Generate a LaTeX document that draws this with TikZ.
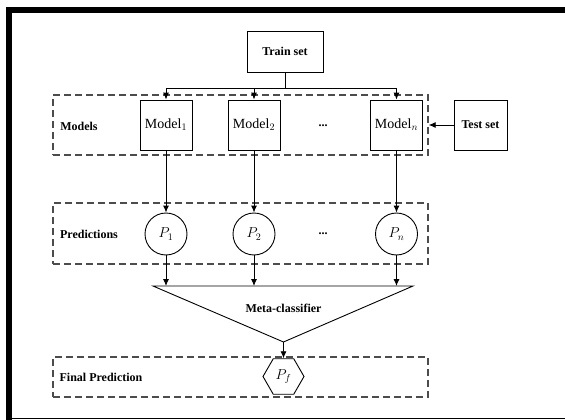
\documentclass[tikz,border=0pt]{standalone}
\usepackage{fontspec}
\setmainfont{Liberation Serif}
\usepackage{tikz}
\usetikzlibrary{shapes.geometric,arrows.meta}

\begin{document}
\begin{tikzpicture}[x=1pt,y=-1pt,
    every node/.style={font=\fontsize{12}{14}\selectfont\bfseries},
    stagebox/.style={draw=black!70,line width=1.4pt,dash pattern=on 7pt off 4pt,
      minimum width=375pt,inner sep=0pt},
    modelbox/.style={draw,line width=0.9pt,minimum width=52pt,minimum height=50pt,
      inner sep=0pt,font=\fontsize{14}{16}\selectfont},
    predcircle/.style={draw,circle,line width=0.9pt,minimum size=42pt,inner sep=0pt,
      font=\fontsize{14}{16}\selectfont},
    flow/.style={-{Latex[length=7pt,width=6pt]},line width=0.9pt}]
  \useasboundingbox (0,0) rectangle (565,420);
  % frame
  \fill (6,7) rectangle (565,13);
  \fill (6,7) rectangle (12,420);
  \draw[line width=1.5pt] (6,418.5) -- (565,418.5);

  % stages
  \node[stagebox,minimum height=60pt] (modelsbox) at (240.5,125) {};
  \node[stagebox,minimum height=61pt] (predbox) at (240.5,233.5) {};
  \node[stagebox,minimum height=40pt] (finalbox) at (240.5,377) {};
  \node (modelslabel) at (79,126) {Models};
  \node (predlabel) at (89,234) {Predictions};
  \node (finallabel) at (101,377) {Final Prediction};

  % inputs
  \node[draw,line width=0.9pt,minimum width=76pt,minimum height=41pt] (train) at (285,51.5) {Train set};
  \node[draw,line width=0.9pt,minimum width=53pt,minimum height=50pt,inner sep=0pt] (test) at (480.5,125) {Test set};

  % models
  \node[modelbox] (m1) at (166,125) {Model$_1$};
  \node[modelbox] (m2) at (254,125) {Model$_2$};
  \node[modelbox] (mn) at (396.5,125) {Model$_n$};
  \node (mdots) at (323,126) {...};

  % predictions
  \node[predcircle] (p1) at (166,234) {$P_1$};
  \node[predcircle] (p2) at (254,234) {$P_2$};
  \node[predcircle] (pn) at (396.5,234) {$P_n$};
  \node (pdots) at (323,234) {...};

  % meta-classifier
  \coordinate (metaL) at (153,286);
  \coordinate (metaR) at (413,286);
  \coordinate (metaA) at (283.5,342);
  \draw[line width=0.9pt] (metaL) -- (metaR) -- (metaA) -- cycle;
  \node (meta) at (283.5,308) {Meta-classifier};

  % final prediction
  \node[draw,regular polygon,regular polygon sides=6,line width=0.9pt,minimum size=41pt,
    inner sep=0pt,font=\fontsize{14}{16}\selectfont] (pf) at (283.5,376.5) {$P_f$};

  % connectors
  \coordinate (bus) at (285,88);
  \draw[line width=0.9pt] (train.south) -- (bus);
  \draw[line width=0.9pt] (m1.north |- bus) -- (mn.north |- bus);
  \foreach \m in {m1,m2,mn}
    \draw[flow] (\m.north |- bus) -- (\m.north);
  \draw[flow] (test.west) -- (modelsbox.east);
  \draw[flow] (m1) -- (p1);
  \draw[flow] (m2) -- (p2);
  \draw[flow] (mn) -- (pn);
  \foreach \p in {p1,p2,pn}
    \draw[flow] (\p.south) -- (\p.south |- metaL);
  \draw[flow] (metaA) -- (pf.north);
\end{tikzpicture}
\end{document}
